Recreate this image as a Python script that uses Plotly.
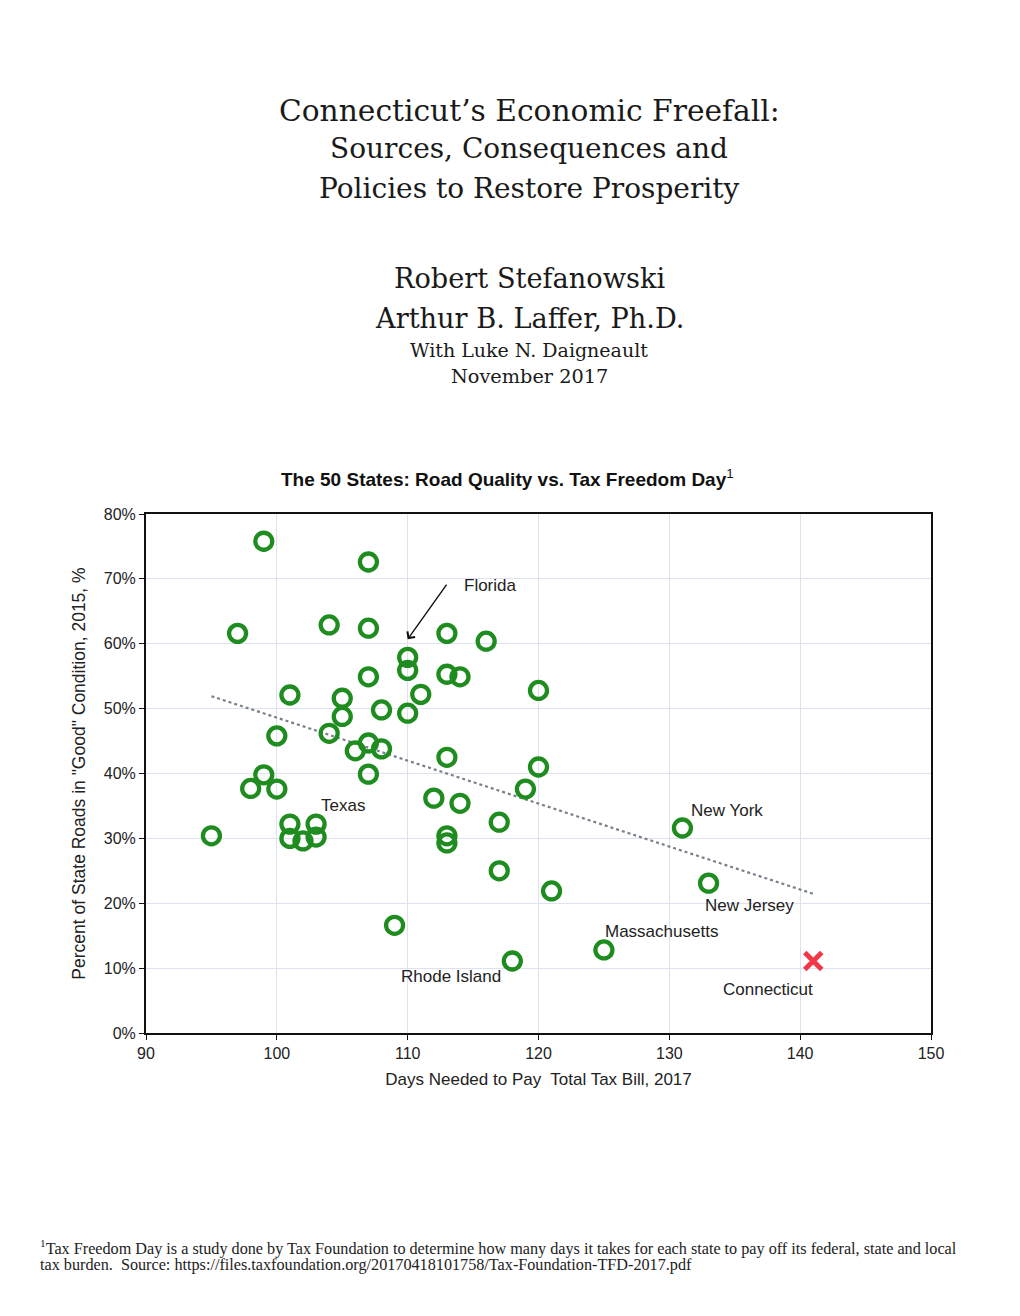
import numpy as np
import plotly.graph_objects as go

# ---- data ----
days = [99, 107, 97, 104, 107, 113, 116, 110, 110, 107, 113, 114, 120, 101, 105, 111,
        105, 108, 110, 100, 104, 106, 107, 108, 113, 120, 107, 99, 98, 100, 119, 112,
        114, 101, 103, 117, 131, 95, 101, 102, 103, 113, 113, 117, 133, 121, 109, 125, 118]
good = [75.8, 72.6, 61.6, 62.9, 62.4, 61.6, 60.4, 57.9, 55.9, 54.9, 55.3, 54.9, 52.8, 52.1, 51.6, 52.2,
        48.8, 49.8, 49.3, 45.8, 46.2, 43.5, 44.7, 43.8, 42.5, 41.0, 39.9, 39.8, 37.7, 37.6, 37.6, 36.2,
        35.4, 32.2, 32.2, 32.5, 31.6, 30.4, 30.0, 29.6, 30.2, 30.4, 29.3, 25.0, 23.1, 21.9, 16.6, 12.8, 11.1]
ct_days = [141]
ct_good = [11.1]
trend_x = [95, 141]

x_ticks = [90, 100, 110, 120, 130, 140, 150]
y_ticks = [0, 10, 20, 30, 40, 50, 60, 70, 80]
y_tick_labels = ["0%", "10%", "20%", "30%", "40%", "50%", "60%", "70%", "80%"]

labels = [
    ("Texas", 107, 37.6),
    ("New York", 131, 31.6),
    ("New Jersey", 133, 23.1),
    ("Massachusetts", 125, 12.8),
    ("Rhode Island", 118, 11.1),
    ("Connecticut", 141, 11.1),
]

# trend line from a least-squares fit of all 50 states
all_x = np.array(days + ct_days, dtype=float)
all_y = np.array(good + ct_good, dtype=float)
slope, intercept = np.polyfit(all_x, all_y, 1)
trend_y = [slope * t + intercept for t in trend_x]

SANS = "Arial, Liberation Sans, sans-serif"
SERIF = "DejaVu Serif, serif"
FOOT = "Liberation Serif, serif"

W, H = 1020, 1316
OFF = 8  # page body margin


def px(x):
    return (x - OFF) / W


def py(y):
    return 1 - (y - OFF) / H


fig = go.Figure()
fig.add_trace(go.Scatter(x=trend_x, y=trend_y, mode="lines",
                         line=dict(color="#7a7f8c", width=2.2, dash="dot"),
                         hoverinfo="skip", showlegend=False))
fig.add_trace(go.Scatter(x=days, y=good, mode="markers",
                         marker=dict(symbol="circle-open", size=17, color="#1e8c1e",
                                     line=dict(width=4.3, color="#1e8c1e")),
                         showlegend=False))
fig.add_trace(go.Scatter(x=ct_days, y=ct_good, mode="markers",
                         marker=dict(symbol="x-thin", size=17, color="#f0384a",
                                     line=dict(width=5, color="#f0384a")),
                         showlegend=False))

# state labels: screen offsets (px right, px down) from the point
offsets = {
    "Texas": (-25, 16),
    "New York": (45, -17),
    "New Jersey": (41, 22),
    "Massachusetts": (58, -18),
    "Rhode Island": (-61, 16),
    "Connecticut": (-45, 29),
}
for name, lx, ly in labels:
    dx, dy = offsets[name]
    fig.add_annotation(x=lx, y=ly, text=name, showarrow=False, xshift=dx, yshift=-dy,
                       font=dict(family=SANS, size=17, color="#222"))

# Florida arrow + label
fig.add_annotation(x=110.0, y=60.7, ax=40, ay=-56, axref="pixel", ayref="pixel",
                   text="", showarrow=True, arrowhead=4, arrowsize=1.3, arrowwidth=1.4,
                   arrowcolor="#111")
fig.add_annotation(x=114.15, y=69.0, text="Florida", showarrow=False, xanchor="left",
                   font=dict(family=SANS, size=17, color="#222"))

# header texts
header = [
    ("Connecticut’s Economic Freefall:", 110, 29.7),
    ("Sources, Consequences and", 149, 28),
    ("Policies to Restore Prosperity", 188, 28),
    ("Robert Stefanowski", 278, 27.2),
    ("Arthur B. Laffer, Ph.D.", 318, 27.2),
    ("With Luke N. Daigneault", 350, 19),
    ("November 2017", 377, 19.3),
]
for txt, ypx, fs in header:
    fig.add_annotation(x=px(529), y=py(ypx), xref="paper", yref="paper",
                       text=txt, showarrow=False, xanchor="center", yanchor="middle",
                       font=dict(family=SERIF, size=fs, color="#1a1a1a"))

fig.add_annotation(x=px(507), y=py(478), xref="paper", yref="paper",
                   text="<b>The 50 States: Road Quality vs. Tax Freedom Day</b><sup>1</sup>",
                   showarrow=False, xanchor="center", yanchor="middle",
                   font=dict(family=SANS, size=19, color="#111"))

footnote_lines = [
    ("<sup>1</sup>Tax Freedom Day is a study done by Tax Foundation to determine how many days it takes "
     "for each state to pay off its federal, state and local", 1247),
    ("tax burden.  Source: https://files.taxfoundation.org/20170418101758/Tax-Foundation-TFD-2017.pdf", 1265),
]
for txt, ypx in footnote_lines:
    fig.add_annotation(x=px(38), y=py(ypx), xref="paper", yref="paper",
                       text=txt, showarrow=False, xanchor="left", yanchor="middle", align="left",
                       font=dict(family=FOOT, size=16.2, color="#222"))

fig.update_layout(
    width=W, height=H,
    margin=dict(l=0, r=0, t=0, b=0, pad=0),
    paper_bgcolor="white", plot_bgcolor="white",
    xaxis=dict(domain=[px(146), px(931)], range=[90, 150], tickvals=x_ticks,
               automargin=False,
               showgrid=True, gridcolor="#dde1f2", gridwidth=1,
               showline=True, linecolor="#111", linewidth=2, mirror=True,
               ticks="outside", ticklen=5, tickcolor="#111", zeroline=False,
               tickfont=dict(family=SANS, size=16, color="#222"),
               title=dict(text="Days Needed to Pay  Total Tax Bill, 2017",
                          font=dict(family=SANS, size=17, color="#222"), standoff=12)),
    yaxis=dict(domain=[py(1033), py(514)], range=[0, 80], tickvals=y_ticks,
               ticktext=y_tick_labels, automargin=False,
               showgrid=True, gridcolor="#dde1f2", gridwidth=1,
               showline=True, linecolor="#111", linewidth=2, mirror=True,
               ticks="outside", ticklen=5, tickcolor="#111", zeroline=False,
               tickfont=dict(family=SANS, size=16, color="#222"),
               title=dict(text="Percent of State Roads in \"Good\" Condition, 2015, %",
                          font=dict(family=SANS, size=17.5, color="#222"), standoff=14)),
)

fig.write_html("out.html")
